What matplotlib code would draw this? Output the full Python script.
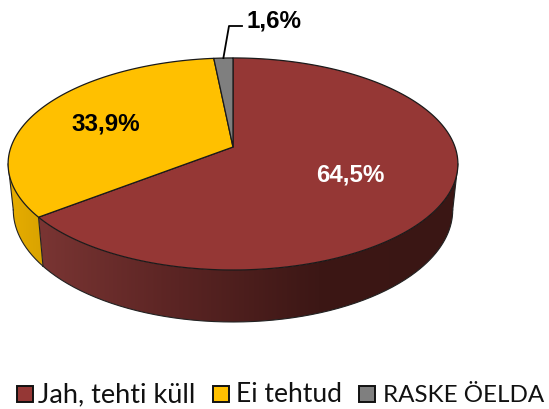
import matplotlib

matplotlib.use("Agg")
import matplotlib.pyplot as plt
import numpy as np
from matplotlib.colors import LinearSegmentedColormap
from matplotlib.patches import Polygon, Rectangle

categories = ["Jah, tehti küll", "Ei tehtud", "RASKE ÖELDA"]
values = [64.5, 33.9, 1.6]
value_labels = ["64,5%", "33,9%", "1,6%"]
colors = ["#953735", "#FFC000", "#7F7F7F"]

# pie position in picture pixels, with a slight perspective
CX, CY = 233, 148
RX, RY = 222, 103.3
TILT = 0.16
BOTTOM_CY, BOTTOM_SX, BOTTOM_SY = 193, 0.977, 1.057


def project(theta, sx=1.0, sy=1.0, cy=CY):
    """Clockwise angle from 12 o'clock to picture pixels."""
    u, v = np.sin(theta), np.cos(theta)
    w = 1 + TILT * v
    return CX + sx * RX * u / w, cy - sy * RY * v / w


fig = plt.figure(figsize=(5.49, 4.10), dpi=100)
ax = fig.add_axes([0, 0, 1, 1])
ax.set_xlim(0, 549)
ax.set_ylim(410, 0)
ax.axis("off")

edges = np.concatenate([[0], np.cumsum(values)]) / sum(values) * 2 * np.pi

# side wall runs between the two widest points of the disc
widest = np.arccos(-TILT)
wall_ranges = [(widest, edges[1]), (edges[1], 2 * np.pi - widest)]
wall_maps = [
    LinearSegmentedColormap.from_list("red_wall", ["#7A3533", "#5A2423", "#3C1715", "#3A1614"]),
    LinearSegmentedColormap.from_list("yellow_wall", ["#E8AE00", "#D8A200"]),
]
wall_extents = [(38, 460), (6, 46)]
for (t0, t1), cmap, (x0, x1) in zip(wall_ranges, wall_maps, wall_extents):
    t = np.linspace(t0, t1, 240)
    xt, yt = project(t)
    xb, yb = project(t, BOTTOM_SX, BOTTOM_SY, BOTTOM_CY)
    wall = Polygon(np.c_[np.r_[xt, xb[::-1]], np.r_[yt, yb[::-1]]], closed=True, fc="none", ec="none")
    ax.add_patch(wall)
    im = ax.imshow(
        np.linspace(0, 1, 256)[None, :],
        cmap=cmap,
        extent=[x0, x1, 330, 140],
        aspect="auto",
        zorder=1,
    )
    im.set_clip_path(wall)
    ax.plot(xb, yb, color="#222222", lw=0.8, zorder=2)
ax.set_xlim(0, 549)
ax.set_ylim(410, 0)

# outer sides and the seam between the two walls
for a in (widest, edges[1], 2 * np.pi - widest):
    xa, ya = project(a)
    xb, yb = project(a, BOTTOM_SX, BOTTOM_SY, BOTTOM_CY)
    ax.plot([xa, xb], [ya, yb], color="#222222", lw=0.8, zorder=2)

# top face
for i, col in enumerate(colors):
    t = np.linspace(edges[i], edges[i + 1], 200)
    xt, yt = project(t)
    ax.fill(
        np.r_[CX, xt],
        np.r_[CY, yt],
        facecolor=col,
        edgecolor="#1a1a1a",
        lw=0.9,
        joinstyle="round",
        zorder=3,
    )

# labels
label_style = dict(fontsize=17.4, fontweight="bold", family="Liberation Sans", va="center", zorder=5)
ax.text(350, 175, value_labels[0], color="white", ha="center", **label_style)
ax.text(105.5, 124, value_labels[1], color="black", ha="center", **label_style)
ax.text(247, 21, value_labels[2], color="black", ha="left", **label_style)

# leader line of the small slice
lx, ly = project((edges[2] + edges[3]) / 2)
ax.plot([lx, 229, 242], [ly, 27, 27], color="black", lw=1.3, zorder=4)

# legend placed by hand, Lato capitals run wider than the original font
legend_box_x = [16.5, 212.5, 358.5]
legend_text_x = [38.5, 236, 383]
legend_sizes = [19.5, 19.1, 17.4]
for i, name in enumerate(categories):
    ax.add_patch(Rectangle((legend_box_x[i], 387), 16, 15.5, facecolor=colors[i], edgecolor="#111111", lw=1.4))
    ax.text(legend_text_x[i], 402, name, fontsize=legend_sizes[i], family="Lato", color="#111111", va="baseline", ha="left")

fig.savefig("out.png", dpi=100)
